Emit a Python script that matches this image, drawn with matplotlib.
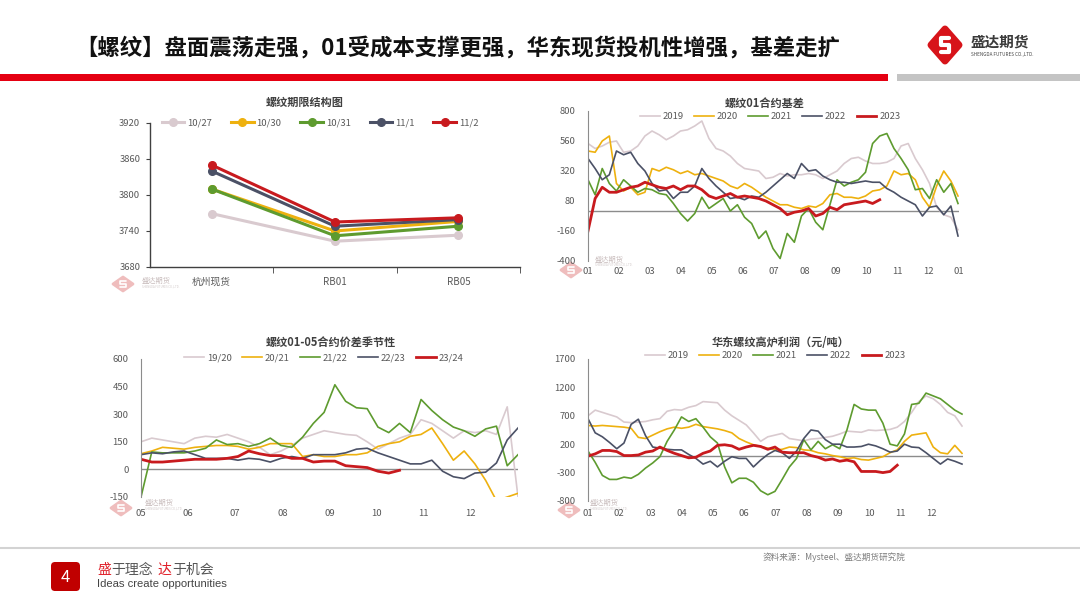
import numpy as np
import matplotlib
matplotlib.use('Agg')
import matplotlib.pyplot as plt
from matplotlib.patches import Rectangle, FancyBboxPatch, Polygon

plt.rcParams['font.family'] = ['Noto Sans CJK SC', 'DejaVu Sans']
plt.rcParams['axes.unicode_minus'] = False

W, H = 1080, 608

# ---- chart 1: term structure ----
terms = ['杭州现货', 'RB01', 'RB05']
dates1 = ['10/27', '10/30', '10/31', '11/1', '11/2']
v1027 = [3769, 3723, 3733]
v1030 = [3810, 3740, 3756]
v1031 = [3810, 3732, 3748]
v1101 = [3840, 3748, 3759]
v1102 = [3850, 3755, 3762]

# ---- chart 2: RB01 basis (weekly) ----
b2019 = [540, 500, 520, 550, 560, 470, 480, 520, 600, 640, 610, 570, 600, 640, 650, 680, 720, 580,
         500, 480, 440, 380, 340, 330, 320, 260, 270, 300, 280, 290, 290, 300, 290, 260, 290, 320,
         380, 420, 430, 400, 380, 380, 390, 420, 520, 540, 420, 330, 220, 30, -30, -50, -150]
b2020 = [480, 470, 560, 600, 220, 160, 190, 130, 150, 340, 320, 350, 330, 300, 320, 290, 300, 280,
         260, 240, 200, 180, 220, 190, 150, 110, 80, 50, 50, 30, 20, 40, 30, 60, 130, 140,
         110, 110, 100, 120, 160, 170, 200, 320, 290, 300, 250, 110, 30, 200, 320, 240, 120]
b2021 = [250, 130, 340, 220, 160, 250, 200, 150, 180, 170, 140, 130, 60, -20, -80, -20, 110, 20,
         60, 100, 0, 50, -50, -100, -220, -160, -300, -380, -180, -250, -40, 20, -90, -150, 50, 250,
         200, 230, 250, 310, 540, 600, 620, 500, 420, 330, 170, 180, 100, 250, 150, 220, 60]
b2022 = [420, 340, 250, 290, 480, 450, 470, 380, 320, 220, 160, 170, 100, 150, 150, 200, 340, 260,
         200, 150, 100, 110, 90, 120, 110, 150, 200, 250, 300, 260, 380, 320, 330, 280, 250, 230,
         230, 220, 230, 240, 230, 230, 180, 150, 110, 80, 50, -40, 30, 40, -30, 40, -200]
b2023 = [-160, 100, 190, 150, 150, 170, 190, 200, 230, 210, 190, 180, 200, 170, 200, 200, 170, 120,
         100, 120, 140, 110, 120, 110, 100, 80, 50, 20, -30, -10, 0, 20, -40, -20, 30, 10,
         50, 60, 70, 80, 60, 90]

# ---- chart 3: 01-05 spread seasonal (weekly from May) ----
s1920 = [150, 170, 160, 150, 140, 170, 180, 175, 190, 170, 150, 120, 80, 100, 130, 170, 190, 210,
         200, 190, 185, 150, 110, 140, 170, 190, 270, 250, 210, 170, 210, 200, 210, 190, 340, -150]
s2021 = [85, 100, 120, 115, 110, 120, 125, 130, 130, 125, 110, 120, 140, 140, 140, 70, 80, 70,
         70, 80, 80, 90, 125, 140, 150, 180, 190, 225, 140, 50, 100, 30, -60, -170, -150, -130]
s2122 = [-150, 95, 90, 90, 90, 100, 115, 160, 135, 140, 125, 140, 170, 130, 120, 175, 250, 310,
         460, 370, 335, 330, 230, 200, 250, 200, 380, 320, 270, 230, 210, 180, 220, 235, 20, 80]
s2223 = [80, 90, 85, 95, 100, 80, 60, 60, 60, 50, 60, 55, 40, 60, 70, 60, 80, 80,
         80, 90, 110, 115, 90, 70, 50, 30, 30, 50, -10, -40, -50, -20, -15, 35, 160, 225]
s2324 = [55, 40, 40, 45, 50, 55, 55, 55, 60, 70, 100, 85, 75, 75, 60, 60, 40, 45,
         45, 20, 15, 10, -10, -20, -5]

# ---- chart 4: east china BF profit (weekly) ----
p2019 = [700, 800, 760, 720, 680, 590, 580, 590, 600, 630, 650, 780, 810, 800, 850, 880, 950, 940,
         930, 800, 700, 620, 540, 400, 250, 330, 360, 390, 300, 280, 260, 290, 300, 320, 340, 380,
         430, 420, 410, 450, 440, 450, 460, 500, 600, 760, 950, 1050, 1000, 900, 760, 700, 520]
p2020 = [530, 520, 530, 520, 510, 500, 480, 320, 300, 360, 420, 470, 500, 480, 500, 550, 510, 490,
         470, 440, 400, 300, 240, 190, 160, 130, 100, 110, 150, 140, 100, 90, 50, 30, 0, -20,
         -50, -40, -70, -80, -50, -20, 50, 100, 250, 360, 380, 400, 150, 50, 30, 180, 40]
p2021 = [80, -120, -350, -420, -420, -380, -400, -330, -220, -130, -20, 250, 450, 680, 600, 650, 500, 330,
         220, -200, -480, -400, -400, -470, -620, -690, -630, -420, -200, -50, 280, 100, 250, 120, 190, 120,
         450, 900, 820, 800, 800, 570, 200, 170, 380, 900, 920, 1100, 1050, 1000, 900, 800, 730]
p2022 = [650, 400, 330, 230, 120, 220, 550, 640, 350, 150, 130, 110, 100, 100, 20, -50, -150, -100,
         -200, -100, -20, -50, -50, -200, -80, 20, 90, 50, -50, 80, 300, 450, 430, 280, 200, 200,
         150, 150, 160, 200, 170, 120, 60, 80, 200, 150, 140, 50, -50, -150, -60, -100, -150]
p2023 = [-10, 30, 90, 90, 70, 0, 0, 10, 60, 80, 150, 90, 40, 0, -40, -30, 40, 80,
         180, 190, 170, 110, 150, 180, 160, 110, 150, 60, 50, 50, 50, 0, -30, -80, -60, -100,
         -80, -110, -280, -280, -280, -300, -280, -170]

years = ['2019', '2020', '2021', '2022', '2023']
seasons = ['19/20', '20/21', '21/22', '22/23', '23/24']
colors = ['#D9CACF', '#EEB10F', '#5E9B2F', '#4B5166', '#C81A1E']
line_w = [1.2, 1.2, 1.2, 1.2, 2.0]
GREY = '#595959'

fig = plt.figure(figsize=(W / 100, H / 100), dpi=100)
bg = fig.add_axes([0, 0, 1, 1])
bg.set_xlim(0, W)
bg.set_ylim(H, 0)
bg.axis('off')


def box(l, t, r, b):
    ax = fig.add_axes([l / W, 1 - b / H, (r - l) / W, (b - t) / H])
    ax.patch.set_visible(False)
    return ax


def legend_at(ax, cx, cy, **kw):
    leg = ax.legend(loc='center', bbox_to_anchor=(cx / W, 1 - cy / H), bbox_transform=fig.transFigure,
                    ncol=5, frameon=False, fontsize=6.8, handletextpad=0.3, labelcolor=GREY, **kw)
    return leg


def logo(cx, cy, dx, dy, col, lw, slw):
    # rounded diamond with a white S stroke
    bg.add_patch(Polygon([(cx - dx, cy), (cx, cy - dy), (cx + dx, cy), (cx, cy + dy)], closed=True,
                         fc=col, ec=col, lw=lw, joinstyle='round'))
    sx = [0.3, -0.3, -0.3, 0.3, 0.3, -0.3]
    sy = [-0.45, -0.45, 0, 0, 0.45, 0.45]
    bg.plot([cx + v * dx for v in sx], [cy + v * dy for v in sy], color='white', lw=slw,
            solid_joinstyle='round', solid_capstyle='round')


def watermark(cx, cy, tx, ty):
    logo(cx, cy, 10, 7, '#EFBDBD', 2, 1.2)
    bg.text(tx, ty, '盛达期货', fontsize=5.2, color='#C9BDBD', va='center')
    bg.text(tx, ty + 5, 'SHENGDA FUTURES CO.,LTD.', fontsize=2, color='#D0C8C8', va='center')


# ---- header ----
bg.text(75, 48, '【螺纹】盘面震荡走强，01受成本支撑更强，华东现货投机性增强，基差走扩',
        fontsize=16.1, fontweight='bold', color='#111111', va='center', ha='left')
bg.add_patch(Rectangle((0, 74), 888, 7, color='#E50012', lw=0))
bg.add_patch(Rectangle((897, 74), W - 897, 7, color='#C4C4C4', lw=0))
logo(945, 45, 14, 16, '#D7141A', 5, 3)
bg.text(971, 42, '盛达期货', fontsize=10.5, fontweight='bold', color='#3A3A3A', va='center')
bg.text(971, 54.5, 'SHENGDA FUTURES CO.,LTD.', fontsize=3.3, color='#444444', va='center')

# ---- footer ----
bg.plot([0, W], [547.5, 547.5], color='#D3D3D3', lw=1.5)
bg.add_patch(FancyBboxPatch((51, 562), 29, 29, boxstyle='round,pad=0,rounding_size=4',
                            fc='#C00000', ec='none'))
bg.text(65.5, 577, '4', color='white', fontsize=12, ha='center', va='center')
bg.text(97, 570, '盛', color='#E0202A', fontsize=10, va='center')
bg.text(111, 570, '于理念', color='#555555', fontsize=10, va='center')
bg.text(158, 570, '达', color='#E0202A', fontsize=10, va='center')
bg.text(172, 570, '于机会', color='#555555', fontsize=10, va='center')
bg.text(97, 584, 'Ideas create opportunities', color='#444444', fontsize=8.1, va='center',
        family=['Liberation Sans', 'DejaVu Sans'])
bg.text(763, 557.5, '资料来源：Mysteel、盛达期货研究院', color='#7F7F7F', fontsize=6.2, va='center')

# ---- chart 1 ----
ax1 = box(150, 123, 520, 267)
xs = np.arange(len(terms))
series1 = [v1027, v1030, v1031, v1101, v1102]
for vals, lab, c in zip(series1, dates1, colors):
    ax1.plot(xs, vals, color=c, lw=2.2, marker='o', ms=5.5, label=lab)
ax1.set_xlim(-0.5, 2.5)
ax1.set_ylim(3680, 3920)
ax1.set_yticks([3680, 3740, 3800, 3860, 3920])
ax1.set_xticks(xs)
ax1.set_xticklabels(terms)
ax1.set_xticks([0.5, 1.5, 2.5], minor=True)
ax1.tick_params(axis='x', which='major', length=0, pad=7, labelsize=7, labelcolor=GREY)
ax1.tick_params(axis='x', which='minor', length=4, color='#404040')
ax1.tick_params(axis='y', length=3, pad=4, labelsize=6.8, labelcolor=GREY, color='#404040')
for s in ['top', 'right']:
    ax1.spines[s].set_visible(False)
for s in ['left', 'bottom']:
    ax1.spines[s].set_color('#404040')
    ax1.spines[s].set_linewidth(1)
legend_at(ax1, 320, 123, handlelength=2.4, columnspacing=2.0)
bg.text(305, 102, '螺纹期限结构图', fontsize=8, fontweight='bold', color='#404040', ha='center', va='center')
watermark(123, 284, 142, 281)


def season_chart(l, t, r, b, series, labels, ylim, yticks, xlab, xmax, xscale, title, tx, ty, lcx, lcy, lpad):
    ax = box(l, t, r, b)
    for vals, lab, c, lw in zip(series, labels, colors, line_w):
        x = np.arange(len(vals)) * xscale
        ax.plot(x, vals, color=c, lw=lw, label=lab, solid_joinstyle='round')
    ax.axhline(0, color='#8C8C8C', lw=1, zorder=0)
    ax.set_xlim(0, xmax)
    ax.set_ylim(*ylim)
    ax.set_yticks(yticks)
    ax.set_xticks(np.arange(len(xlab)))
    ax.set_xticklabels(xlab)
    ax.tick_params(axis='x', length=0, pad=lpad, labelsize=6.8, labelcolor=GREY)
    ax.tick_params(axis='y', length=0, pad=9, labelsize=6.8, labelcolor=GREY)
    for s in ['top', 'right', 'bottom']:
        ax.spines[s].set_visible(False)
    ax.spines['left'].set_color('#8C8C8C')
    legend_at(ax, lcx, lcy, handlelength=2.1, columnspacing=1.1)
    bg.text(tx, ty, title, fontsize=8, fontweight='bold', color='#404040', ha='center', va='center')
    return ax


m01 = ['01', '02', '03', '04', '05', '06', '07', '08', '09', '10', '11', '12']

season_chart(588, 111, 959, 261, [b2019, b2020, b2021, b2022, b2023], years,
             (-400, 800), [-400, -160, 80, 320, 560, 800], m01 + ['01'], 12, 12 / 52.14,
             '螺纹01合约基差', 765, 103, 770, 116.5, 4)
watermark(571, 270, 595, 259.5)

season_chart(141, 359, 518, 497, [s1920, s2021, s2122, s2223, s2324], seasons,
             (-150, 600), [-150, 0, 150, 300, 450, 600], ['05', '06', '07', '08', '09', '10', '11', '12'], 8, 8 / 35,
             '螺纹01-05合约价差季节性', 331, 342, 324, 358, 9)
watermark(121, 508, 145, 503)

season_chart(588, 359, 963, 501, [p2019, p2020, p2021, p2022, p2023], years,
             (-800, 1700), [-800, -300, 200, 700, 1200, 1700], m01, 12, 12 / 52.14,
             '华东螺纹高炉利润（元/吨）', 781, 342, 775, 356, 6)
watermark(569, 510, 590, 503)

fig.savefig('out.png', dpi=100)
